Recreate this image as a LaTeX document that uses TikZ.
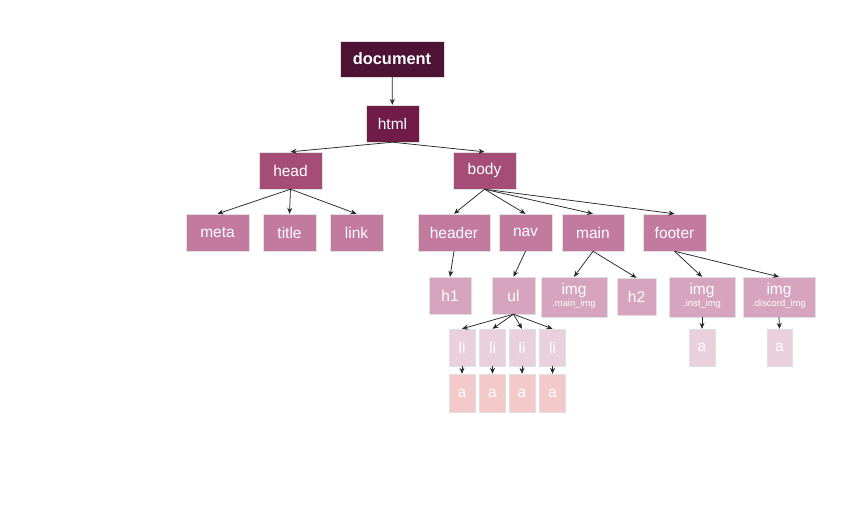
\documentclass[tikz,border=0pt]{standalone}
\usepackage{fontspec}
\setmainfont{Liberation Sans}
\usetikzlibrary{arrows.meta}
\definecolor{cdoc}{RGB}{77,18,52}
\definecolor{chtml}{RGB}{112,27,72}
\definecolor{clev2}{RGB}{165,76,119}
\definecolor{clev3}{RGB}{194,122,159}
\definecolor{clev4}{RGB}{214,164,190}
\definecolor{clev5}{RGB}{233,208,220}
\definecolor{clev6}{RGB}{244,201,201}
\tikzset{
  box/.style={draw=black!12, line width=0.4pt, text=white, inner sep=0pt, font=\fontsize{15.5}{16}\selectfont, minimum height=37pt},
  edge/.style={draw=black!85, line width=0.75pt, -{Stealth[length=6pt,width=5pt]}},
}
\newcommand{\imglabel}[1]{\begin{tabular}{@{}c@{}}img\\[-4pt]{\fontsize{9.4}{10}\selectfont #1}\end{tabular}}
\begin{document}
\begin{tikzpicture}[x=1pt,y=-1pt]
\useasboundingbox (0,0) rectangle (851,531);
\node[box, fill=cdoc, minimum width=104pt, minimum height=36pt, font=\fontsize{16.4}{17}\selectfont\bfseries] (doc) at (392,59) {document};
\node[box, fill=chtml, minimum width=53pt] (html) at (392.5,123.5) {html};
\node[box, fill=clev2, minimum width=63pt] (head) at (290.5,170.5) {head};
\node[box, fill=clev2, minimum width=63pt] (body) at (484.5,170.5) {body};
\node[box, fill=clev3, minimum width=63pt] (meta) at (217.5,232.5) {meta};
\node[box, fill=clev3, minimum width=53pt] (title) at (289.5,232.5) {title};
\node[box, fill=clev3, minimum width=53pt] (link) at (356.5,232.5) {link};
\node[box, fill=clev3, minimum width=72pt] (header) at (454,232.5) {header};
\node[box, fill=clev3, minimum width=53pt] (nav) at (525.5,232.5) {nav};
\node[box, fill=clev3, minimum width=62pt] (main) at (593,232.5) {main};
\node[box, fill=clev3, minimum width=63pt] (footer) at (674.5,232.5) {footer};
\node[box, fill=clev4, minimum width=42pt] (h1) at (450,295.5) {h1};
\node[box, fill=clev4, minimum width=43pt] (ul) at (513.5,295.5) {ul};
\node[box, fill=clev4, minimum width=66pt, minimum height=40pt] (imgmain) at (574,297) {\imglabel{.main\_img}};
\node[box, fill=clev4, minimum width=39pt] (h2) at (636.5,296.5) {h2};
\node[box, fill=clev4, minimum width=66pt, minimum height=40pt] (imginst) at (702,297) {\imglabel{.inst\_img}};
\node[box, fill=clev4, minimum width=72pt, minimum height=40pt] (imgdisc) at (779,297) {\imglabel{.discord\_img}};
\foreach \i/\x in {1/462,2/492.5,3/522,4/552.5}{
  \node[box, fill=clev5, minimum width=26pt] (li\i) at (\x,347.5) {li};
  \node[box, fill=clev6, minimum width=26pt, minimum height=38pt] (a\i) at (\x,393) {a};
}
\node[box, fill=clev5, minimum width=26pt] (ainst) at (702,347.5) {a};
\node[box, fill=clev5, minimum width=25pt] (adisc) at (779.5,347.5) {a};

\draw[edge] (doc) -- (html);
\draw[edge] (html.south) -- (head.north);
\draw[edge] (html.south) -- (body.north);
\foreach \c in {meta,title,link}{\draw[edge] (head.south) -- (\c.north);}
\foreach \c in {header,nav,main,footer}{\draw[edge] (body.south) -- (\c.north);}
\draw[edge] (header.south) -- (h1.north);
\draw[edge] (nav.south) -- (ul.north);
\draw[edge] (main.south) -- (imgmain.north);
\draw[edge] (main.south) -- (h2.north);
\draw[edge] (footer.south) -- (imginst.north);
\draw[edge] (footer.south) -- (imgdisc.north);
\foreach \i in {1,2,3,4}{
  \draw[edge] (ul.south) -- (li\i.north);
  \draw[edge] (li\i.south) -- (a\i.north);
}
\draw[edge] (imginst.south) -- (ainst.north);
\draw[edge] (imgdisc.south) -- (adisc.north);
\end{tikzpicture}
\end{document}
